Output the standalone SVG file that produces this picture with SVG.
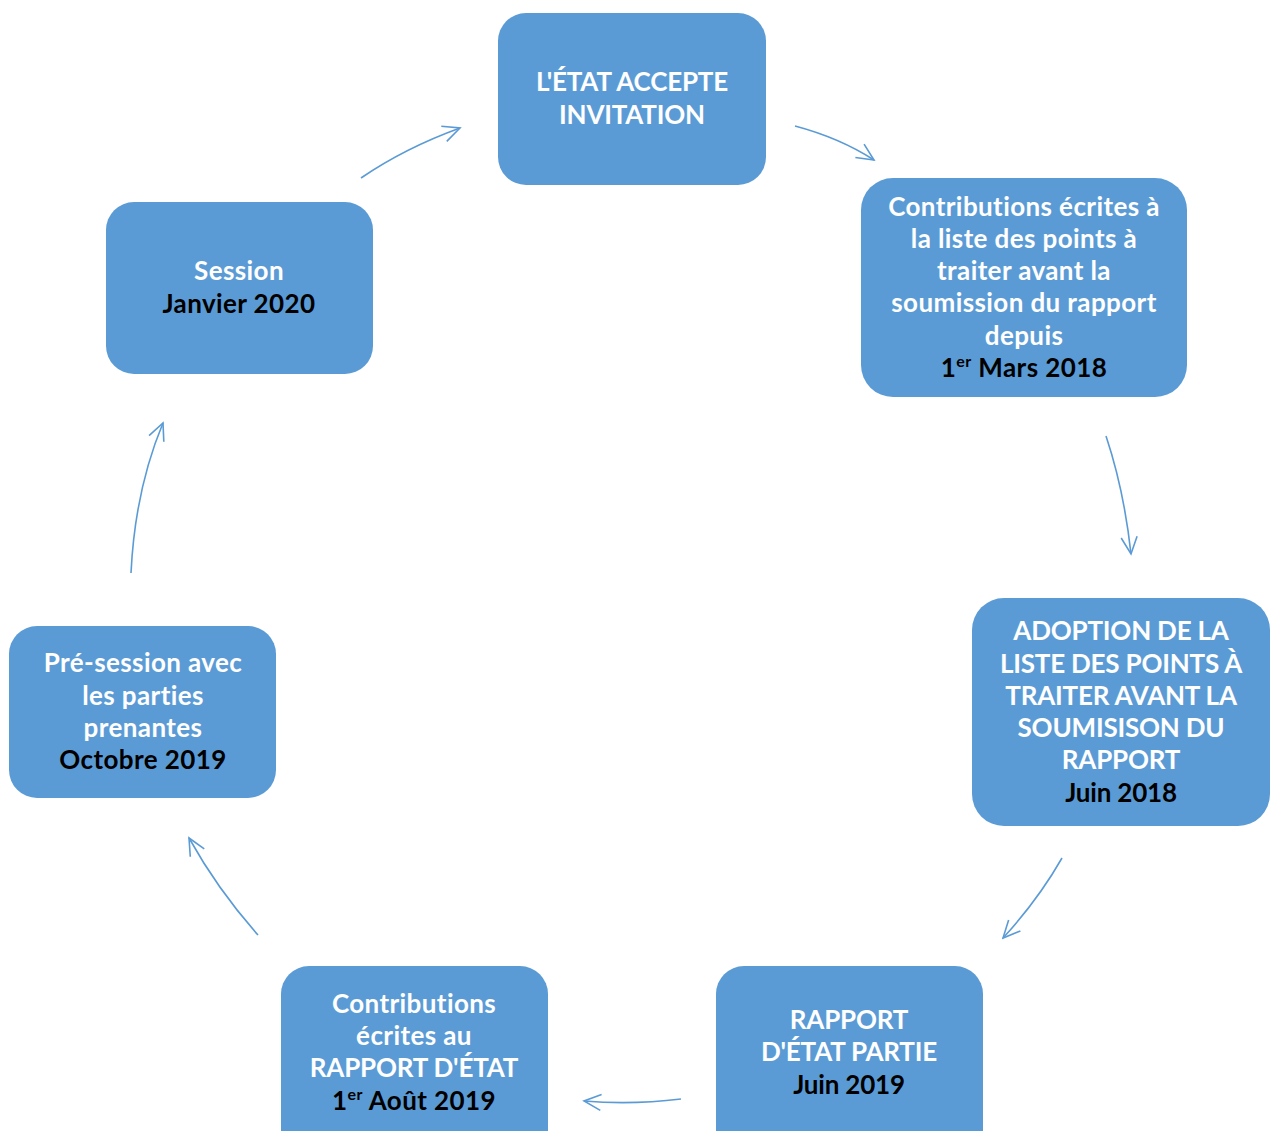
<svg xmlns="http://www.w3.org/2000/svg" width="1271" height="1131" viewBox="0 0 1271 1131">
<defs>
<style>
.box{fill:#5B9BD5;}
.t{font-family:Lato,"Open Sans","Liberation Sans",sans-serif;font-weight:700;font-size:26px;letter-spacing:0.4px;fill:#fff;text-anchor:middle;}
.u{letter-spacing:-0.2px;}
.d{fill:#000;}
.sup{font-size:16px;}
.c{fill:none;stroke:#5B9BD5;stroke-width:1.6;marker-end:url(#ah);}
</style>
<marker id="ah" viewBox="0 0 20 20" refX="18" refY="10" markerWidth="20" markerHeight="20" markerUnits="userSpaceOnUse" orient="auto">
<path d="M1,2 L18,10 L1,18" fill="none" stroke="#5B9BD5" stroke-width="1.6"/>
</marker>
</defs>
<rect width="1271" height="1131" fill="#fff"/>
<g id="connectors">
<path class="c" d="M795,126 Q840,138 874,160"/>
<path class="c" d="M1106,436 Q1124,490 1131,554"/>
<path class="c" d="M1062,858 Q1038,900 1003,938"/>
<path class="c" d="M681,1099 Q632,1105 584,1101"/>
<path class="c" d="M258,935 Q218,890 189,838"/>
<path class="c" d="M131,573 Q135,490 163,423"/>
<path class="c" d="M361,178 Q405,148 460,128"/>
</g>
<g id="n1"><rect class="box" x="498" y="13" width="268" height="172" rx="28"/>
<text class="t u"><tspan x="632" y="91">L'ÉTAT ACCEPTE</tspan><tspan x="632" y="124">INVITATION</tspan></text></g>
<g id="n2"><rect class="box" x="861" y="178" width="326" height="219" rx="32"/>
<text class="t"><tspan x="1024" y="216">Contributions écrites à</tspan><tspan x="1024" y="248">la liste des points à</tspan><tspan x="1024" y="280">traiter avant la</tspan><tspan x="1024" y="312">soumission du rapport</tspan><tspan x="1024" y="345">depuis</tspan><tspan x="1024" y="377" class="d">1<tspan class="sup" dy="-10">er</tspan><tspan dy="10"> Mars 2018</tspan></tspan></text></g>
<g id="n3"><rect class="box" x="972" y="598" width="298" height="228" rx="32"/>
<text class="t u"><tspan x="1121" y="640">ADOPTION DE LA</tspan><tspan x="1121" y="673">LISTE DES POINTS À</tspan><tspan x="1121" y="705">TRAITER AVANT LA</tspan><tspan x="1121" y="737">SOUMISISON DU</tspan><tspan x="1121" y="769">RAPPORT</tspan><tspan x="1121" y="802" class="d">Juin 2018</tspan></text></g>
<g id="n4"><rect class="box" x="716" y="966" width="267" height="200" rx="28"/>
<text class="t u"><tspan x="849" y="1029">RAPPORT</tspan><tspan x="849" y="1061">D'ÉTAT PARTIE</tspan><tspan x="849" y="1094" class="d">Juin 2019</tspan></text></g>
<g id="n5"><rect class="box" x="281" y="966" width="267" height="200" rx="28"/>
<text class="t"><tspan x="414" y="1013">Contributions</tspan><tspan x="414" y="1045">écrites au</tspan><tspan x="414" y="1077" class="u">RAPPORT D'ÉTAT</tspan><tspan x="414" y="1110" class="d">1<tspan class="sup" dy="-10">er</tspan><tspan dy="10"> Août 2019</tspan></tspan></text></g>
<g id="n6"><rect class="box" x="9" y="626" width="267" height="172" rx="28"/>
<text class="t"><tspan x="143" y="672">Pré-session avec</tspan><tspan x="143" y="705">les parties</tspan><tspan x="143" y="737">prenantes</tspan><tspan x="143" y="769" class="d">Octobre 2019</tspan></text></g>
<g id="n7"><rect class="box" x="106" y="202" width="267" height="172" rx="28"/>
<text class="t"><tspan x="239" y="280">Session</tspan><tspan x="239" y="313" class="d">Janvier 2020</tspan></text></g>
</svg>
